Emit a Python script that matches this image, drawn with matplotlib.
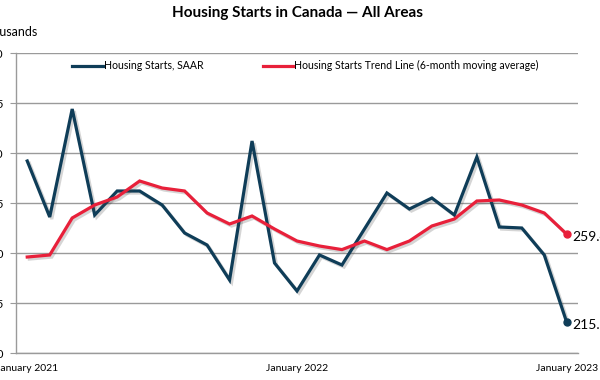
import matplotlib
matplotlib.use("Agg")
import matplotlib.pyplot as plt
import matplotlib.patheffects as pe

plt.rcParams['font.family'] = ['Lato', 'DejaVu Sans']

months = list(range(25))
tick_positions = [0, 12, 24]
tick_labels = ["January 2021", "January 2022", "January 2023"]
starts_saar = [296, 268, 322, 269, 281, 281, 274, 260, 254, 236.5, 306, 245, 231,
               249, 244, 262, 280, 272, 277.5, 269, 298, 263, 262.5, 249, 215.3]
trend_6m = [248, 249, 267.5, 274, 278, 286, 282.5, 281, 270, 264.5, 268.5, 262, 256,
            253.5, 251.7, 256, 251.7, 256, 263.5, 267, 276, 276.5, 274, 270, 259.4]
y_ticks = [200, 225, 250, 275, 300, 325, 350]

blue = "#0F3D58"
red = "#E8203A"
grid_c = "#9A9A9A"

fig = plt.figure(figsize=(6, 3.8), dpi=100)
ax = fig.add_axes([16/600, 1-353/380, (578-16)/600, 300/380])

shadow = [pe.SimpleLineShadow(offset=(1.5, -1.5), alpha=0.22, shadow_color="#444444"), pe.Normal()]

l1, = ax.plot(months, starts_saar, color=blue, lw=2.3, solid_joinstyle='miter',
              label="Housing Starts, SAAR", path_effects=shadow, zorder=3)
l2, = ax.plot(months, trend_6m, color=red, lw=2.3, solid_joinstyle='miter',
              label="Housing Starts Trend Line (6-month moving average)", path_effects=shadow, zorder=4)
ax.plot([months[-1]], [starts_saar[-1]], 'o', color=blue, ms=5, zorder=5)
ax.plot([months[-1]], [trend_6m[-1]], 'o', color=red, ms=5, zorder=5)
ax.annotate(f"{starts_saar[-1]:.1f}", (months[-1], starts_saar[-1]), xytext=(4, -2),
            textcoords='offset points', va='center', ha='left', fontsize=10, annotation_clip=False)
ax.annotate(f"{trend_6m[-1]:.1f}", (months[-1], trend_6m[-1]), xytext=(4, -2),
            textcoords='offset points', va='center', ha='left', fontsize=10, annotation_clip=False)

ax.set_xlim(-0.5, 24.5)
ax.set_ylim(200, 350)
ax.set_yticks(y_ticks)
ax.set_yticklabels([str(v) for v in y_ticks])
ax.set_xticks(tick_positions)
ax.set_xticklabels(tick_labels)
ax.tick_params(axis='x', length=0, pad=8, labelsize=7.5)
ax.tick_params(axis='y', length=4, pad=5, labelsize=8.5, color=grid_c)
ax.grid(axis='y', color=grid_c, lw=1)
ax.set_axisbelow(True)
for s in ['top', 'right']:
    ax.spines[s].set_visible(False)
for s in ['left', 'bottom']:
    ax.spines[s].set_color(grid_c)
    ax.spines[s].set_linewidth(1)

leg = ax.legend(handles=[l1, l2], loc='upper center', bbox_to_anchor=(0.515, 1.0), ncol=2,
                frameon=False, fontsize=7.6, handlelength=2.9, handletextpad=0.1,
                columnspacing=5.6, borderaxespad=0.3)
for h in leg.get_lines():
    h.set_path_effects([])
    h.set_linewidth(2.3)

fig.text(297/600, 1-13/380, "Housing Starts in Canada — All Areas", ha='center', va='center',
         fontsize=11, fontweight='bold')
fig.text(38/600, 1-32/380, "Thousands", ha='right', va='center', fontsize=9)

fig.savefig("out.png", dpi=100)
